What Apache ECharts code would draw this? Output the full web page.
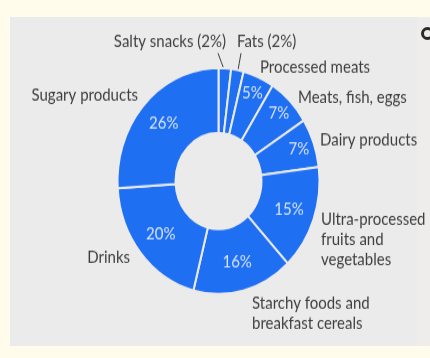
<!DOCTYPE html>
<html>
<head>
<meta charset="utf-8">
<script src="https://cdn.jsdelivr.net/npm/echarts@6/dist/echarts.min.js"></script>
<style>
  html, body { margin: 0; padding: 0; width: 430px; height: 358px; overflow: hidden; background: #fffcec; }
  #panel { position: absolute; left: 10px; top: 17px; width: 407px; height: 329px; background: #ebebeb; }
  #side { position: absolute; left: 417px; top: 17px; width: 13px; height: 329px; background: #efedeb; }
  #ring { position: absolute; left: 421px; top: 27px; width: 7px; height: 7px; border: 3px solid #2a2a2a; border-radius: 50%; }
  #chart { position: absolute; left: 0; top: 0; width: 430px; height: 320px; transform: scaleY(1.11875); transform-origin: 0 0; }
</style>
</head>
<body>
<div id="panel"></div>
<div id="side"></div>
<div id="ring"></div>
<div id="chart"></div>
<script>
// ---- data ----
const categories = ['Salty snacks (2%)', 'Fats (2%)', 'Processed meats', 'Meats, fish, eggs', 'Dairy products',
  'Ultra-processed\nfruits and\nvegetables', 'Starchy foods and\nbreakfast cereals', 'Drinks', 'Sugary products'];
const shares = [2, 2, 5, 7, 7, 15, 16, 20, 26];

// ---- layout / style (not data) ----
const BLUE = '#1f6ff3';
const GRAY = '#ebebeb';
const TEXT = '#3e3e3e';
const FONT = 'Lato, "Open Sans", sans-serif';
const CENTER = [218.5, 161.8];
// name label anchors (x, y, align) in chart coordinates
const LABEL_POS = [
  [226, 37.5, 'right'],
  [237, 37.5, 'left'],
  [260, 59.9, 'left'],
  [298, 86.7, 'left'],
  [320, 125.1, 'left'],
  [321, 214.5, 'left'],
  [252, 279.8, 'left'],
  [130, 229.7, 'right'],
  [138, 84.9, 'right']
];

const pieData = categories.map((c, i) => ({ name: c, value: shares[i] }));

const chart = echarts.init(document.getElementById('chart'), null, { renderer: 'canvas' });
chart.setOption({
  animation: false,
  series: [
    {
      type: 'pie',
      center: CENTER,
      radius: [43, 101],
      startAngle: 90,
      clockwise: true,
      silent: true,
      avoidLabelOverlap: false,
      itemStyle: { color: BLUE, borderColor: GRAY, borderWidth: 2 },
      label: {
        show: true, position: 'inside', color: '#d8e5ff', fontFamily: FONT, fontSize: 15,
        formatter: p => (p.value >= 15 ? p.value + '%' : '')
      },
      labelLine: { show: false },
      emphasis: { disabled: true },
      data: pieData
    },
    {
      type: 'pie',
      center: CENTER,
      radius: [64, 101],
      startAngle: 90,
      clockwise: true,
      silent: true,
      avoidLabelOverlap: false,
      itemStyle: { color: 'rgba(0,0,0,0)' },
      label: {
        show: true, position: 'inside', color: '#d8e5ff', fontFamily: FONT, fontSize: 15,
        formatter: p => (p.value >= 5 && p.value < 15 ? p.value + '%' : '')
      },
      labelLine: { show: false },
      emphasis: { disabled: true },
      data: pieData
    },
    {
      type: 'pie',
      center: CENTER,
      radius: [43, 101],
      startAngle: 90,
      clockwise: true,
      silent: true,
      avoidLabelOverlap: false,
      itemStyle: { color: 'rgba(0,0,0,0)' },
      label: {
        show: true, position: 'outside', color: TEXT, fontFamily: FONT, fontSize: 15, lineHeight: 18,
        formatter: p => p.name
      },
      labelLine: { show: true, length: 5, length2: 5, lineStyle: { color: '#3a3a3a', width: 1 } },
      emphasis: { disabled: true },
      data: pieData.map((d, i) => Object.assign({}, d, { labelLine: { show: shares[i] <= 2 } })),
      labelLayout: function (p) {
        const pos = LABEL_POS[p.dataIndex];
        const out = { x: pos[0], y: pos[1], align: pos[2], verticalAlign: 'middle' };
        if (p.labelLinePoints && shares[p.dataIndex] <= 2) {
          const s = p.labelLinePoints[0];
          const h = p.labelRect.height;
          const ex = pos[2] === 'right' ? pos[0] - 8 : pos[0] + 4;
          const ey = pos[1] + h / 2 + 1;
          out.labelLinePoints = [[s[0], s[1] + 3], [(s[0] + ex) / 2, (s[1] + 3 + ey) / 2], [ex, ey]];
        }
        return out;
      }
    }
  ]
});
</script>
</body>
</html>
